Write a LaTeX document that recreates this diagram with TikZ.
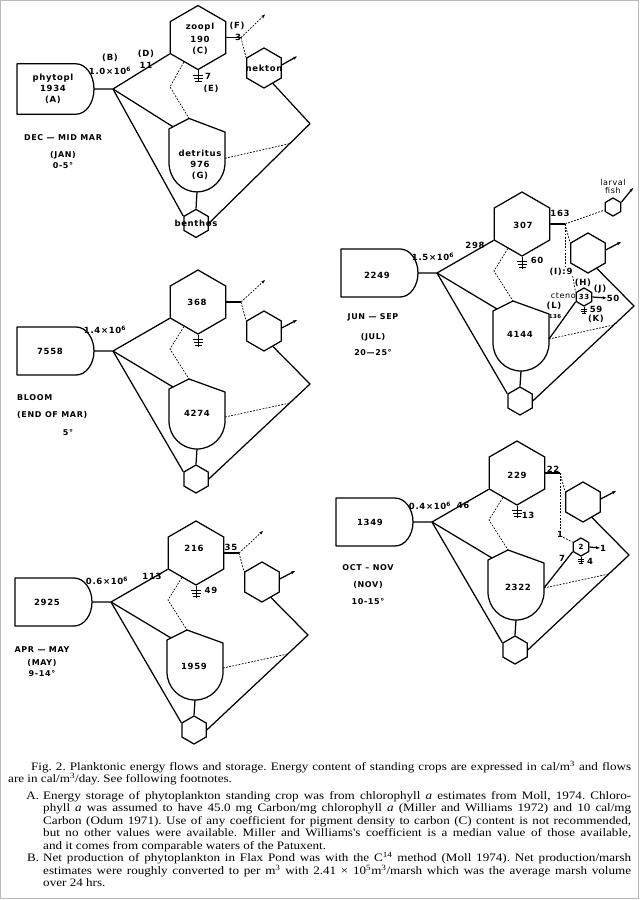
\documentclass[tikz,border=0pt]{standalone}
\usepackage{fontspec}
\setmainfont{Liberation Serif}
\newfontfamily\lblfont[LetterSpace=8]{DejaVu Sans}
\newfontfamily\capfont[FakeStretch=1.15]{Liberation Serif}
\usetikzlibrary{shapes.geometric,arrows.meta,calc}
\tikzset{
    >={Stealth[length=4pt,width=3pt]},
    % --- styles ---
    pipe/.style={line width=1.25pt, line join=round},
    dpipe/.style={line width=0.7pt, dash pattern=on 1.8pt off 1.4pt},
    hexa/.style={draw, line width=1.25pt, regular polygon, regular polygon sides=6,
                 shape border rotate=30, inner sep=0pt, minimum size=#1pt},
    lbl/.style={font=\fontsize{8.5}{11}\lblfont\bfseries, inner sep=0pt, align=center},
    smalllbl/.style={font=\fontsize{5.5}{6}\lblfont\bfseries, inner sep=0pt},
    season/.style={font=\fontsize{8}{10}\lblfont\bfseries, inner sep=0pt},
    % heat sink
    sink/.pic={
        \draw[line width=0.8pt] (0,0) -- (0,12);
        \foreach \y/\w in {5/5,8/4.5,11/3.5}
            \draw[line width=0.8pt] (-\w,\y) -- (\w,\y);
    },
    % one season: phytoplankton, zooplankton, detritus, benthos, nekton
    web/.pic={
        \coordinate (-J) at (0,0);
        \coordinate (-tip) at (-19,0);
        \coordinate (-phyto) at (-60,0);
        \coordinate (-zz) at (57,-2);
        \coordinate (-detL) at (60,36);
        \coordinate (-detA) at (76,28);
        \coordinate (-detR) at (112,66);
        \coordinate (-detB) at (84,98);
        \coordinate (-R) at (197,33);
        \coordinate (-st) at (128,-49);
        \coordinate (-up) at (152,-71);
        \coordinate (-nout) at (184,-31);
        % storages
        \draw[pipe] (-96,-24) -- (-37,-24)
            arc[start angle=-90, end angle=90, x radius=18, y radius=24] -- (-96,24) -- cycle;
        \draw[pipe] (56,38) -- (-detA) -- (112,41) -- (112,70)
            arc[start angle=0, end angle=180, radius=28] -- cycle;
        \node[hexa=64] (-zoo) at (85,-49) {};
        \node[hexa=40] (-nek) at (151,-20) {};
        \node[hexa=28] (-bn) at (83,128) {};
        % flows
        \draw[pipe] (-tip) -- (-J) -- (-zoo.corner 3);
        \draw[pipe] (-J) -- (-detL);
        \draw[pipe] (-J) -- (-bn.corner 2);
        \draw[pipe] (-detB) -- (-bn.corner 1);
        \draw[pipe] (-nek.300) -- (-R) -- (-bn.east);
        \draw[pipe] (-zoo.east) -- (-st);
        \draw[pipe,->] (-nek.10) -- (-nout);
        \pic at (-zoo.corner 4) {sink};
        \draw[dpipe] (-st) -- (-nek.corner 2);
        \draw[dpipe] (-zoo.240) -- (-zz) -- (-detA);
        \draw[dpipe] (-detR) -- ($(-bn.east)!.8!(-R)$);
    }
}

\begin{document}
\begin{tikzpicture}[x=1pt,y=-1pt]
    \useasboundingbox (0,0) rectangle (640,900);
    \draw[gray!55, line width=1.2pt] (0.6,0.6) rectangle (638.6,898.6);

    % --- DEC - MID MAR ---
    \pic[yscale=1.05] (p1) at (113,89) {web};
    \draw[dpipe,->] (p1-st) -- (p1-up);
    \node[lbl] (t1a) at (53,89) {phytopl\\1934\\(A)};
    \node[lbl] (t1c) at (200,39) {zoopl\\[2pt]190\\(C)};
    \node[lbl] (t1g) at (200,165) {detritus\\976\\(G)};
    \node[lbl] (t1bn) at (p1-bn) {benthos};
    \node[lbl] (t1nk) at (p1-nek) {nekton};
    \node[lbl] (t1b) at (110,58) {(B)};
    \node[lbl] (t1bv) at (110,71) {1.0×10\textsuperscript{6}};
    \node[lbl] (t1d) at (146,54) {(D)};
    \node[lbl] (t1dv) at (146,65) {11};
    \node[lbl] (t1e) at (208,76) {7};
    \node[lbl] (t1ev) at (211,89) {(E)};
    \node[lbl] (t1f) at (237,26) {(F)};
    \node[lbl] (t1fv) at (238,37) {3};
    \node[season] (s1a) at (63,138) {DEC — MID MAR};
    \node[season] (s1b) at (63,155) {(JAN)};
    \node[season] (s1c) at (63,166) {0-5°};

    % --- BLOOM ---
    \pic (p2) at (113,351) {web};
    \draw[dpipe,->] (p2-st) -- (p2-up);
    \node[lbl] (t2a) at (50,351) {7558};
    \node[lbl] (t2c) at (197,302) {368};
    \node[lbl] (t2g) at (197,413) {4274};
    \node[lbl] (t2b) at (105,330) {1.4×10\textsuperscript{6}};
    \node[season, anchor=west] (s2a) at (17,398) {BLOOM};
    \node[season, anchor=west] (s2b) at (17,415) {(END OF MAR)};
    \node[season] (s2c) at (68,433) {5°};

    % --- APR - MAY ---
    \pic (p3) at (111,602) {web};
    \draw[dpipe,->] (p3-st) -- (p3-up);
    \node[lbl] (t3a) at (47,602) {2925};
    \node[lbl] (t3c) at (194,548) {216};
    \node[lbl] (t3g) at (194,666) {1959};
    \node[lbl] (t3b) at (107,581) {0.6×10\textsuperscript{6}};
    \node[lbl] (t3d) at (152,576) {113};
    \node[lbl] (t3e) at (211,590) {49};
    \node[lbl] (t3f) at (231,547) {35};
    \node[season] (s3a) at (42,650) {APR — MAY};
    \node[season] (s3b) at (42,663) {(MAY)};
    \node[season] (s3c) at (42,674) {9-14°};

    % --- JUN - SEP ---
    \pic (p4) at (437,273) {web};
    \node[lbl] (t4a) at (377,275) {2249};
    \node[lbl] (t4c) at (523,225) {307};
    \node[lbl] (t4g) at (520,334) {4144};
    \node[lbl] (t4b) at (433,257) {1.5×10\textsuperscript{6}};
    \node[lbl] (t4d) at (475,245) {298};
    \node[lbl] (t4e) at (537,260) {60};
    \node[lbl] (t4f) at (560,213) {163};
    % larval fish
    \node[hexa=18] (lf4) at (613,207) {};
    \coordinate (lf4out) at (633,188);
    \node[lbl, font=\fontsize{8}{8}\lblfont] (t4lf) at (613,187) {larval\\fish};
    \draw[pipe,->] (lf4.30) -- (lf4out);
    \draw[dpipe] (p4-st) -- (lf4.200);
    % ctenophores
    \node[hexa=18] (ct4) at (584,297) {};
    \node[lbl, font=\fontsize{7}{8}\lblfont\bfseries] (t4ct) at (ct4) {33};
    \node[lbl] (t4i) at (561,272) {(I):9};
    \draw[dpipe] (p4-st) -- (p4-st |- t4i.north);
    \draw[dpipe] (t4i.south east) -- (ct4.corner 2);
    \node[lbl] (t4h) at (583,283) {(H)};
    \node[lbl, anchor=east, font=\fontsize{8}{8}\lblfont] (t4cn) at (576,296) {cteno};
    \node[lbl] (t4j) at (600,289) {(J)};
    \node[lbl] (t4jv) at (613,298) {50};
    \draw[pipe,->] (ct4.east) -- (t4jv.west);
    \pic[scale=0.6] at (ct4.corner 4) {sink};
    \node[lbl] (t4k) at (596,309) {59};
    \node[lbl] (t4kb) at (596,319) {(K)};
    \draw[pipe] (p4-detR) -- (ct4.corner 3);
    \node[lbl] (t4l) at (554,306) {(L)};
    \node[smalllbl] (t4lv) at (555,316) {136};
    \node[season] (s4a) at (373,317) {JUN — SEP};
    \node[season] (s4b) at (373,337) {(JUL)};
    \node[season] (s4c) at (373,353) {20—25°};

    % --- OCT - NOV ---
    \pic (p5) at (432,522) {web};
    \node[lbl] (t5a) at (370,522) {1349};
    \node[lbl] (t5c) at (517,475) {229};
    \node[lbl] (t5g) at (518,587) {2322};
    \node[lbl] (t5b) at (430,506) {0.4×10\textsuperscript{6}};
    \node[lbl] (t5d) at (463,505) {46};
    \node[lbl] (t5e) at (528,515) {13};
    \node[lbl] (t5f) at (553,469) {22};
    \node[hexa=18] (hx5) at (581,547) {};
    \node[lbl, font=\fontsize{7}{8}\lblfont\bfseries] (t5hx) at (hx5) {2};
    \node[lbl] (t5i) at (560,534) {1};
    \draw[dpipe] (p5-st) -- (p5-st |- t5i.north);
    \draw[dpipe] (t5i.south east) -- (hx5.corner 2);
    \node[lbl] (t5o) at (603,548) {1};
    \draw[pipe,->] (hx5.east) -- (t5o.west);
    \pic[scale=0.6] at (hx5.corner 4) {sink};
    \node[lbl] (t5k) at (590,561) {4};
    \draw[pipe] (p5-detR) -- (hx5.corner 3);
    \node[lbl] (t5l) at (562,558) {7};
    \node[season] (s5a) at (368,568) {OCT – NOV};
    \node[season] (s5b) at (368,585) {(NOV)};
    \node[season] (s5c) at (368,602) {10-15°};

    % --- caption ---
    \node[anchor=north west, inner sep=0pt, text width=623pt, align=justify,
          font=\fontsize{11.4}{12.5}\capfont\frenchspacing] (cap) at (8,761) {%
        \hspace*{23pt}Fig. 2. Planktonic energy flows and storage. Energy content of standing crops are expressed in cal/m\textsuperscript{3} and flows\linebreak
        are in cal/m\textsuperscript{3}/day. See following footnotes.\par
        \vspace{4pt}
        \leftskip=35pt
        \noindent\llap{A.\hspace{4pt}}Energy storage of phytoplankton standing crop was from chlorophyll \textit{a} estimates from Moll, 1974. Chloro-\linebreak
        phyll \textit{a} was assumed to have 45.0 mg Carbon/mg chlorophyll \textit{a} (Miller and Williams 1972) and 10 cal/mg\linebreak
        Carbon (Odum 1971). Use of any coefficient for pigment density to carbon (C) content is not recommended,\linebreak
        but no other values were available. Miller and Williams's coefficient is a median value of those available,\linebreak
        and it comes from comparable waters of the Patuxent.\par
        \noindent\llap{B.\hspace{4pt}}Net production of phytoplankton in Flax Pond was with the C\textsuperscript{14} method (Moll 1974). Net production/marsh\linebreak
        estimates were roughly converted to per m\textsuperscript{3} with 2.41 × 10\textsuperscript{5}m\textsuperscript{3}/marsh which was the average marsh volume\linebreak
        over 24 hrs.\par};
\end{tikzpicture}
\end{document}
